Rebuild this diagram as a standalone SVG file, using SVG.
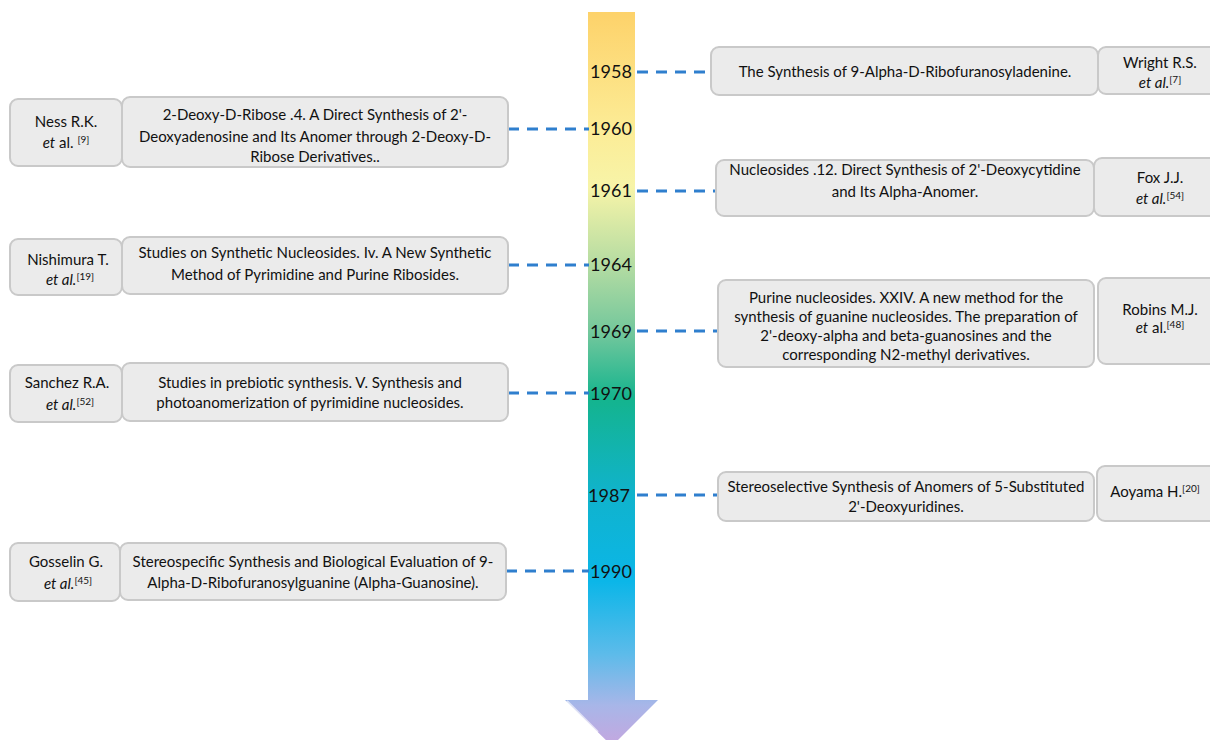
<svg xmlns="http://www.w3.org/2000/svg" width="1210" height="740" viewBox="0 0 1210 740">
<defs>
<linearGradient id="arrowGrad" gradientUnits="userSpaceOnUse" x1="0" y1="12" x2="0" y2="742">
<stop offset="0" stop-color="#fdd26a"/>
<stop offset="0.16" stop-color="#fcec96"/>
<stop offset="0.24" stop-color="#f7f4a8"/>
<stop offset="0.35" stop-color="#b2dba2"/>
<stop offset="0.44" stop-color="#72c79c"/>
<stop offset="0.53" stop-color="#14b48e"/>
<stop offset="0.66" stop-color="#10b3cc"/>
<stop offset="0.78" stop-color="#0bb6e8"/>
<stop offset="0.88" stop-color="#5dbbea"/>
<stop offset="0.95" stop-color="#a8b6e8"/>
<stop offset="1" stop-color="#c2a8e0"/>
</linearGradient>
<style>
.box{fill:#ebebeb;stroke:#c9c9c9;stroke-width:2}
.t{font-family:Lato,"Liberation Sans",sans-serif;font-size:15px;fill:#111111;text-anchor:middle}
.yr{font-family:Lato,"Liberation Sans",sans-serif;font-size:18px;fill:#111111;text-anchor:middle}
.dash{stroke:#2f7fce;stroke-width:3;stroke-dasharray:11 8;fill:none}
.i{font-style:italic}
.sup{font-size:10px}
</style>
</defs>
<rect width="1210" height="740" fill="#ffffff"/>

<g id="timeline-arrow">
<path d="M588,12 H635 V700 H658 L612,746 L565,700 H588 Z" fill="url(#arrowGrad)"/>
<path d="M567,701 L598,732" stroke="#ffffff" stroke-opacity="0.6" stroke-width="2" fill="none"/>
</g>

<g id="connectors">
<line class="dash" x1="637" y1="72" x2="711" y2="72"/>
<line class="dash" x1="508" y1="129" x2="589" y2="129"/>
<line class="dash" x1="637" y1="191" x2="716" y2="191"/>
<line class="dash" x1="508" y1="265" x2="589" y2="265"/>
<line class="dash" x1="637" y1="331" x2="718" y2="331"/>
<line class="dash" x1="508" y1="393" x2="589" y2="393"/>
<line class="dash" x1="637" y1="495" x2="718" y2="495"/>
<line class="dash" x1="506" y1="571" x2="589" y2="571"/>
</g>

<g id="years">
<text class="yr" x="611" y="78">1958</text>
<text class="yr" x="611" y="135">1960</text>
<text class="yr" x="611" y="197">1961</text>
<text class="yr" x="611" y="271">1964</text>
<text class="yr" x="611" y="338">1969</text>
<text class="yr" x="611" y="400">1970</text>
<text class="yr" x="609" y="502">1987</text>
<text class="yr" x="611" y="578">1990</text>
</g>

<g id="node-1958">
<rect class="box" x="711" y="47" width="387" height="48" rx="8"/>
<rect class="box" x="1098" y="47" width="120" height="47" rx="8"/>
<text class="t" x="905" y="77">The Synthesis of 9-Alpha-D-Ribofuranosyladenine.</text>
<text class="t" x="1160" y="68">Wright R.S.</text>
<text class="t" x="1160" y="88"><tspan class="i">et al.</tspan><tspan class="sup" dy="-5">[7]</tspan></text>
</g>

<g id="node-1960">
<rect class="box" x="10" y="99" width="112" height="67" rx="8"/>
<rect class="box" x="122" y="97" width="386" height="70" rx="8"/>
<text class="t" x="66" y="127">Ness R.K.</text>
<text class="t" x="66" y="148"><tspan class="i">et</tspan> al. <tspan class="sup" dy="-5">[9]</tspan></text>
<text class="t" x="315" y="120">2-Deoxy-D-Ribose .4. A Direct Synthesis of 2'-</text>
<text class="t" x="315" y="142">Deoxyadenosine and Its Anomer through 2-Deoxy-D-</text>
<text class="t" x="315" y="162">Ribose Derivatives..</text>
</g>

<g id="node-1961">
<rect class="box" x="716" y="160" width="378" height="56" rx="8"/>
<rect class="box" x="1094" y="158" width="124" height="58" rx="8"/>
<text class="t" x="905" y="175">Nucleosides .12. Direct Synthesis of 2'-Deoxycytidine</text>
<text class="t" x="905" y="197">and Its Alpha-Anomer.</text>
<text class="t" x="1160" y="183">Fox J.J.</text>
<text class="t" x="1160" y="204"><tspan class="i">et al.</tspan><tspan class="sup" dy="-5">[54]</tspan></text>
</g>

<g id="node-1964">
<rect class="box" x="10" y="239" width="112" height="56" rx="8"/>
<rect class="box" x="122" y="237" width="386" height="57" rx="8"/>
<text class="t" x="68" y="265">Nishimura T.</text>
<text class="t" x="70" y="285"><tspan class="i">et al.</tspan><tspan class="sup" dy="-5">[19]</tspan></text>
<text class="t" x="315" y="258">Studies on Synthetic Nucleosides. Iv. A New Synthetic</text>
<text class="t" x="315" y="280">Method of Pyrimidine and Purine Ribosides.</text>
</g>

<g id="node-1969">
<rect class="box" x="718" y="280" width="376" height="87" rx="8"/>
<rect class="box" x="1098" y="278" width="120" height="86" rx="8"/>
<text class="t" x="906" y="303">Purine nucleosides. XXIV. A new method for the</text>
<text class="t" x="906" y="322">synthesis of guanine nucleosides. The preparation of</text>
<text class="t" x="906" y="341">2'-deoxy-alpha and beta-guanosines and the</text>
<text class="t" x="906" y="360">corresponding N2-methyl derivatives.</text>
<text class="t" x="1160" y="315">Robins M.J.</text>
<text class="t" x="1160" y="333"><tspan class="i">et</tspan> al.<tspan class="sup" dy="-5">[48]</tspan></text>
</g>

<g id="node-1970">
<rect class="box" x="10" y="365" width="112" height="57" rx="8"/>
<rect class="box" x="122" y="363" width="386" height="58" rx="8"/>
<text class="t" x="67" y="388">Sanchez R.A.</text>
<text class="t" x="70" y="410"><tspan class="i">et al.</tspan><tspan class="sup" dy="-5">[52]</tspan></text>
<text class="t" x="310" y="388">Studies in prebiotic synthesis. V. Synthesis and</text>
<text class="t" x="310" y="408">photoanomerization of pyrimidine nucleosides.</text>
</g>

<g id="node-1987">
<rect class="box" x="718" y="472" width="376" height="49" rx="8"/>
<rect class="box" x="1097" y="466" width="121" height="55" rx="8"/>
<text class="t" x="906" y="492">Stereoselective Synthesis of Anomers of 5-Substituted</text>
<text class="t" x="906" y="512">2'-Deoxyuridines.</text>
<text class="t" x="1155" y="497">Aoyama H.<tspan class="sup" dy="-5">[20]</tspan></text>
</g>

<g id="node-1990">
<rect class="box" x="10" y="543" width="110" height="58" rx="8"/>
<rect class="box" x="120" y="543" width="386" height="57" rx="8"/>
<text class="t" x="66" y="567">Gosselin  G.</text>
<text class="t" x="68" y="589"><tspan class="i">et al.</tspan><tspan class="sup" dy="-5">[45]</tspan></text>
<text class="t" x="313" y="567">Stereospecific Synthesis and Biological Evaluation of 9-</text>
<text class="t" x="313" y="588">Alpha-D-Ribofuranosylguanine (Alpha-Guanosine).</text>
</g>
</svg>
